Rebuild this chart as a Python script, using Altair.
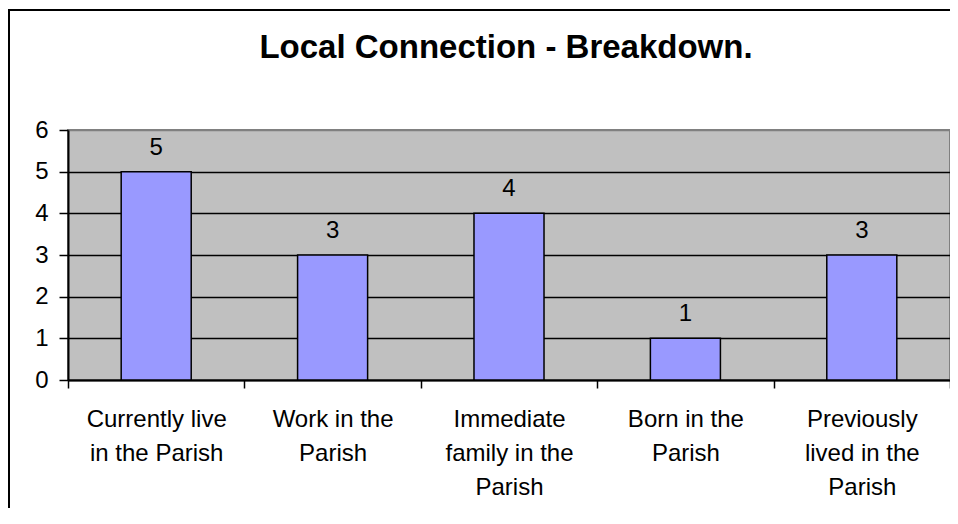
import altair as alt
import pandas as pd

categories = [
    "Currently live\nin the Parish",
    "Work in the\nParish",
    "Immediate\nfamily in the\nParish",
    "Born in the\nParish",
    "Previously\nlived in the\nParish",
]
values = [5, 3, 4, 1, 3]
y_ticks = [0, 1, 2, 3, 4, 5, 6]
title_text = "Local Connection - Breakdown."

FONT = "Liberation Sans"

df = pd.DataFrame({"category": categories, "value": values})
frame_df = pd.DataFrame({"k": [0]})

x_enc = alt.X(
    "category:N",
    sort=categories,
    scale=alt.Scale(paddingInner=0, paddingOuter=0),
    axis=alt.Axis(
        title=None,
        labelAngle=0,
        tickBand="extent",
        labelExpr="split(datum.label, '\\n')",
        labelFont=FONT,
        labelFontSize=24,
        labelColor="black",
        labelLineHeight=34,
        labelPadding=19,
        labelLimit=300,
        labelOverlap=False,
        labelBaseline="top",
        tickSize=8,
        tickColor="black",
        tickWidth=1.5,
        domainColor="black",
        domainWidth=2,
        grid=False,
    ),
)
y_enc = alt.Y(
    "value:Q",
    scale=alt.Scale(domain=[0, 6], nice=False),
    axis=alt.Axis(
        title=None,
        values=y_ticks,
        labelFont=FONT,
        labelFontSize=24,
        labelColor="black",
        labelPadding=11,
        tickSize=9,
        tickColor="black",
        tickWidth=1.5,
        domainColor="black",
        domainWidth=2,
        grid=True,
        gridColor=alt.condition("datum.value == 6", alt.value("#808080"), alt.value("black")),
        gridWidth=1.5,
    ),
)

bars = alt.Chart(df).mark_bar(
    width=alt.RelativeBandSize(0.397),
    color="#9999FF",
    stroke="black",
    strokeWidth=1.5,
).encode(x=x_enc, y=y_enc)

labels = alt.Chart(df).mark_text(
    baseline="alphabetic",
    dy=-17,
    font=FONT,
    fontSize=24,
    color="black",
).encode(
    x=alt.X("category:N", sort=categories),
    y=alt.Y("value:Q"),
    text=alt.Text("value:Q"),
)

frame_left = alt.Chart(frame_df).mark_rule(color="black", strokeWidth=2).encode(
    x=alt.value(-59), y=alt.value(-121), y2=alt.value(500)
)
frame_top = alt.Chart(frame_df).mark_rule(color="black", strokeWidth=2).encode(
    x=alt.value(-60), x2=alt.value(1000), y=alt.value(-120)
)

chart = (
    alt.layer(bars, labels, frame_left, frame_top)
    .properties(
        width=882,
        height=250,
        autosize=alt.AutoSizeParams(type="none"),
        padding={"left": 60, "top": 122, "right": 0, "bottom": 128},
        title=alt.TitleParams(
            text=title_text,
            font=FONT,
            fontSize=33,
            fontWeight="bold",
            color="black",
            anchor="middle",
            baseline="alphabetic",
            offset=0,
            dy=83,
            dx=-3,
        ),
    )
    .configure(background="white")
    .configure_view(fill="#C0C0C0", stroke="#808080", strokeWidth=2)
)

chart.save("out.html", embed_options={"renderer": "svg", "actions": False})
